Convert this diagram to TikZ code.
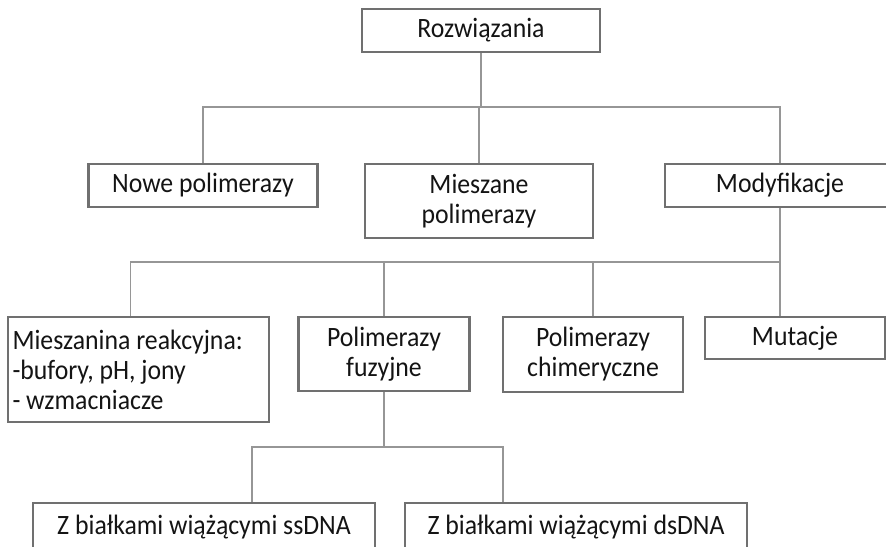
\documentclass[tikz,border=0pt]{standalone}
\usepackage{fontspec}
\setmainfont{Carlito}[FakeStretch=0.92]
\usetikzlibrary{positioning}
\definecolor{boxgray}{RGB}{112,112,112}
\definecolor{linegray}{RGB}{150,150,150}
\definecolor{txt}{RGB}{20,20,20}
\tikzset{x=0.5pt,y=-0.5pt}
\tikzset{box/.style={rectangle, draw=boxgray, line width=1.4pt, fill=white, text=txt, inner sep=2pt, align=flush center, font=\fontsize{14pt}{15pt}\selectfont}}
\tikzset{conn/.style={draw=linegray, line width=0.7pt}}

\begin{document}
\begin{tikzpicture}
\path[clip, use as bounding box] (0,0) rectangle (886,546);
\fill[white] (0,0) rectangle (886,546);
% levels
\node[box, minimum width=119pt, minimum height=21.5pt] (root) at (481,30.5) {Rozwiązania};
\node[box, minimum width=114.5pt, minimum height=21.5pt] (nowe) at (203,185.5) {Nowe polimerazy};
\node[box, minimum width=114pt, minimum height=37pt] (mieszane) at (479,201) {Mieszane\\polimerazy};
\node[box, minimum width=115pt, minimum height=21.5pt] (modyf) at (780,185.5) {Modyfikacje};
\node[box, minimum width=130.5pt, minimum height=52.5pt, align=flush left, text width=126pt] (mieszanina) at (138.5,369.5) {Mieszanina reakcyjna:\\-bufory, pH, jony\\- wzmacniacze};
\node[box, minimum width=85.5pt, minimum height=37pt] (fuzyjne) at (384,354) {Polimerazy\\fuzyjne};
\node[box, minimum width=90pt, minimum height=37.5pt] (chimer) at (593,354.5) {Polimerazy\\chimeryczne};
\node[box, minimum width=90pt, minimum height=21pt] (mutacje) at (795,338) {Mutacje};
\node[box, minimum width=171pt, minimum height=24pt] (ssdna) at (204,527) {Z białkami wiążącymi ssDNA};
\node[box, minimum width=171pt, minimum height=24pt] (dsdna) at (576,527) {Z białkami wiążącymi dsDNA};
% buses
\coordinate (bus1) at (0,107);
\coordinate (bus2) at (0,262);
\coordinate (b3l) at (252,447);
\coordinate (b3r) at (503,447);
% connectors
\draw[conn] (root.south) -- (root.south |- bus1);
\draw[conn] (nowe.north) |- (modyf.north |- bus1) -- (modyf.north);
\draw[conn] (mieszane.north) -- (mieszane.north |- bus1);
\draw[conn] (modyf.south) -- (modyf.south |- mutacje.north);
\draw[conn] ([xshift=-4pt]mieszanina.north) |- (modyf.south |- bus2);
\draw[conn] (fuzyjne.north) -- (fuzyjne.north |- bus2);
\draw[conn] (chimer.north) -- (chimer.north |- bus2);
\draw[conn] (fuzyjne.south) -- (fuzyjne.south |- b3l);
\draw[conn] (b3l |- ssdna.north) |- (b3r) -- (b3r |- dsdna.north);
\end{tikzpicture}
\end{document}
